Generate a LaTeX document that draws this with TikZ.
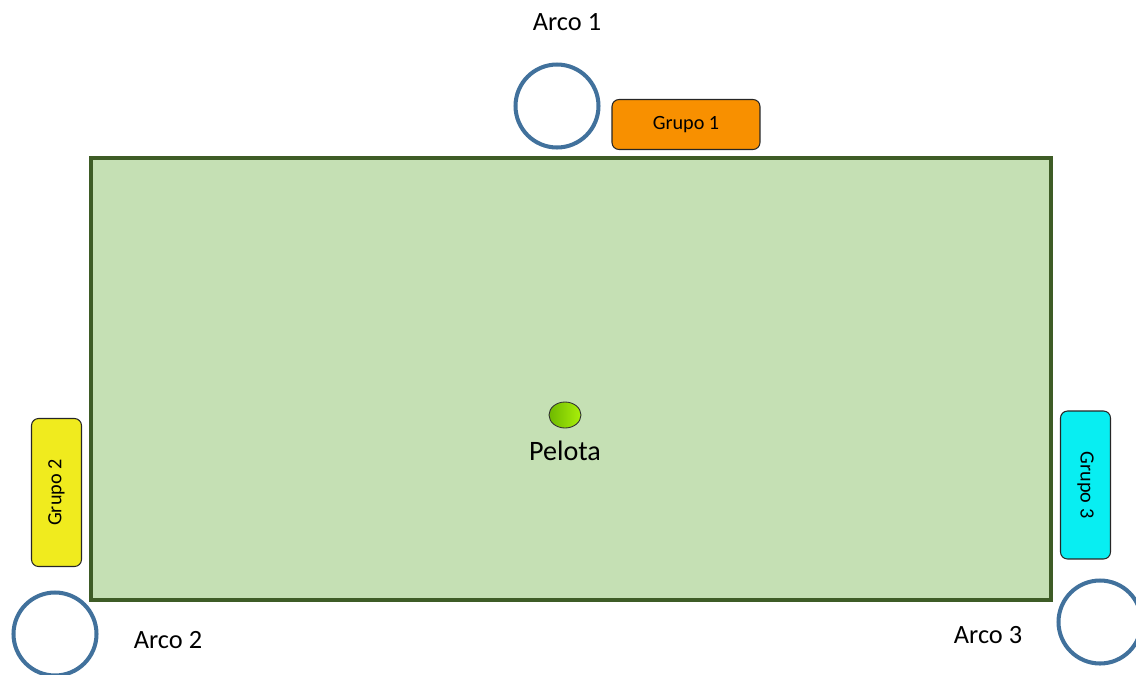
\documentclass[tikz,border=0pt]{standalone}
\usepackage{fontspec}
\setmainfont{Carlito}
\usepackage{tikz}
\usetikzlibrary{shapes,calc,positioning}
\definecolor{fieldgreen}{RGB}{197,224,180}
\definecolor{fieldline}{RGB}{62,92,38}
\definecolor{arcoblue}{RGB}{65,113,156}
\definecolor{grupoorange}{RGB}{248,144,0}
\definecolor{grupoyellow}{RGB}{240,235,30}
\definecolor{grupocyan}{RGB}{8,238,242}
\definecolor{pelotadark}{RGB}{110,185,0}
\definecolor{pelotalight}{RGB}{170,240,10}
\tikzset{
  arco/.style={draw=arcoblue,line width=2.3pt,circle,minimum size=1.66cm,inner sep=0},
  grupo/.style={draw=black!85,line width=0.6pt,rounded corners=4pt,minimum width=2.96cm,minimum height=1.0cm,font=\fontsize{11.5}{13}\selectfont},
  rotulo/.style={font=\fontsize{15}{18}\selectfont}
}
\begin{document}
\begin{tikzpicture}[x=0.02cm,y=-0.02cm]
            \useasboundingbox (0,0) rectangle (1136,674);
            % Draw the field
            \node[draw=fieldline,line width=2.3pt,fill=fieldgreen,minimum width=19.2cm,minimum height=8.84cm,inner sep=0] (cancha) at (571,379) {};
            % The ball in the middle
            \node[draw=black!80,line width=0.5pt,ellipse,minimum width=0.64cm,minimum height=0.52cm,inner sep=0,left color=pelotadark,right color=pelotalight] (pelota) at (565,415) {};
            \node[rotulo,font=\fontsize{16}{19}\selectfont,below=0.12cm of pelota] (pelotatxt) {Pelota};
            % Arcos
            \node[arco] (arco1) at (557,106) {};
            \node[rotulo] (arco1txt) at (567,22) {Arco 1};
            \node[arco] (arco2) at (55,634) {};
            \node[rotulo] (arco2txt) at (168,640) {Arco 2};
            \node[arco] (arco3) at (1100,622) {};
            \node[rotulo] (arco3txt) at (988,635) {Arco 3};
            % Grupos
            \node[grupo,fill=grupoorange] (grupo1) at (686,124.5) {Grupo 1};
            \node[grupo,fill=grupoyellow,rotate=90] (grupo2) at (56.5,492.5) {Grupo 2};
            \node[grupo,fill=grupocyan,rotate=-90] (grupo3) at (1085.5,485) {Grupo 3};
          \end{tikzpicture}
\end{document}
